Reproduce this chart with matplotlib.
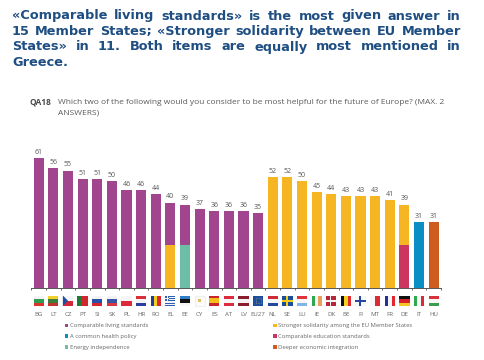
import matplotlib
matplotlib.use("Agg")
import matplotlib.pyplot as plt
from matplotlib.patches import Rectangle, Polygon

W, H = 485, 360

countries = ["BG","LT","CZ","PT","SI","SK","PL","HR","RO","EL","EE","CY","ES","AT","LV","EU27",
             "NL","SE","LU","IE","DK","BE","FI","MT","FR","DE","IT","HU"]
totals = [61,56,55,51,51,50,46,46,44,40,39,37,36,36,36,35,52,52,50,45,44,43,43,43,41,39,31,31]
living = [61,56,55,51,51,50,46,46,44,20,19,37,36,36,36,35,0,0,0,0,0,0,0,0,0,0,0,0]
solidarity = [0,0,0,0,0,0,0,0,0,20,0,0,0,0,0,0,52,52,50,45,44,43,43,43,41,19,0,0]
health = [0]*26 + [31,0]
education = [0]*25 + [20,0,0]
energy = [0]*10 + [20] + [0]*17
economic = [0]*27 + [31]

series_names = ["Comparable living standards","A common health policy","Energy independence",
                "Stronger solidarity among the EU Member States","Comparable education standards",
                "Deeper economic integration"]
series_values = [living, health, energy, solidarity, education, economic]
series_colors = ["#A1468E","#0B8DC6","#6CBFA6","#F6B522","#CB3560","#CD5C1E"]
# stacking order inside a bar, bottom first
stack_order = [4, 2, 1, 5, 3, 0]

title_lines = ["«Comparable living standards» is the most given answer in",
               "15 Member States; «Stronger solidarity between EU Member",
               "States» in 11. Both items are equally most mentioned in",
               "Greece."]
question_lines = ["Which two of the following would you consider to be most helpful for the future of Europe? (MAX. 2",
                  "ANSWERS)"]

flags = {
 "BG":("h",["#F4F4F4","#2E9B4E","#D8342A"]), "LT":("h",["#F2D02C","#3C7D3A","#C1352D"]),
 "CZ":("h",["#F6F6F6","#D3263A"]), "PT":("v",["#1F7A3A","#D3262E","#D3262E"]),
 "SI":("h",["#F4F4F4","#2A4FA8","#D8262E"]), "SK":("h",["#F2F2F2","#3A55A8","#D8393E"]),
 "PL":("h",["#F6F6F6","#DC2A3C"]), "HR":("h",["#D8303A","#F4F4F4","#2D3F9E"]),
 "RO":("v",["#1F3F9C","#F5CF1E","#D82A30"]), "EL":("h",["#2F5FB0","#F4F4F4"]*4+["#2F5FB0"]),
 "EE":("h",["#2F7FC8","#111111","#F6F6F6"]), "CY":("h",["#FBFBFB"]),
 "ES":("h",["#C9252B","#F3BE1B","#F3BE1B","#C9252B"]), "AT":("h",["#DB2B3C","#F6F6F6","#DB2B3C"]),
 "LV":("h",["#8A1D2C","#F2F2F2","#8A1D2C"]), "EU27":("h",["#1E4E9E"]),
 "NL":("h",["#CE2B37","#F6F6F6","#2447A0"]), "SE":("h",["#1A4F9C"]),
 "LU":("h",["#E2323E","#F6F6F6","#80B4E8"]), "IE":("v",["#2FA84F","#F6F6F6","#E8A05A"]),
 "DK":("h",["#B8263A"]), "BE":("v",["#111111","#F5D21F","#E02B30"]),
 "FI":("h",["#F8F8F8"]), "MT":("v",["#F8F8F8","#DD2B36"]),
 "FR":("v",["#20319C","#F6F6F6","#E0282E"]), "DE":("h",["#111111","#D8202A","#F6C81E"]),
 "IT":("v",["#2FA84F","#F6F6F6","#D82B36"]), "HU":("h",["#D8323A","#F6F6F6","#3C9E4C"]),
}
crosses = {"SE":"#F5CE1E","DK":"#F4F4F4","FI":"#24489E","EL":"#F4F4F4"}

fig = plt.figure(figsize=(W/100, H/100), dpi=100, facecolor="white")
plt.rcParams["font.family"] = ["Open Sans", "DejaVu Sans"]

def fx(x): return x / W
def fy(y): return 1 - y / H

renderer = fig.canvas.get_renderer()

def fit_size(text, target_px, **kw):
    t = fig.text(0, 0, text, fontsize=10, **kw)
    w = t.get_window_extent(renderer).width
    t.remove()
    return 10 * target_px / w

def justified(line, x0, x1, y, justify=True, **kw):
    words = line.split(" ")
    arts = [fig.text(fx(x0), fy(y), w, va="center", ha="left", **kw) for w in words]
    widths = [a.get_window_extent(renderer).width for a in arts]
    if justify and len(words) > 1:
        gap = (x1 - x0 - sum(widths)) / (len(words) - 1)
    else:
        space = fig.text(0, 0, "n", **kw)
        gap = space.get_window_extent(renderer).width * 0.6
        space.remove()
    x = x0
    for a, w in zip(arts, widths):
        a.set_x(fx(x))
        x += w + gap

# title, justified word by word
TITLE_L, TITLE_R = 12, 461
title_y = [16, 31.5, 47, 62]
title_fs = fit_size("«Comparable", 96, family="DejaVu Sans", fontweight="bold")
for i, (line, y) in enumerate(zip(title_lines, title_y)):
    justified(line, TITLE_L, TITLE_R, y, justify=i < 3, family="DejaVu Sans",
              fontweight="bold", fontsize=title_fs, color="#1F4E82")

q_fs = fit_size(question_lines[0], 387)
fig.text(fx(30), fy(102.5), "QA18", fontsize=q_fs, fontweight="bold", color="#4A4A4A", va="center")
fig.text(fx(58), fy(102.5), question_lines[0], fontsize=q_fs, color="#5A5A5A", va="center")
fig.text(fx(58), fy(113.5), question_lines[1], fontsize=q_fs, color="#5A5A5A", va="center")

# axes
L, R, T, B = 31.4, 441, 140, 288
ax = fig.add_axes([fx(L), fy(B), (R - L) / W, (B - T) / H])
pos = list(range(len(countries)))
bottoms = [0] * len(countries)
handles = {}
for idx in stack_order:
    vals = series_values[idx]
    handles[idx] = ax.bar(pos, vals, width=0.69, bottom=bottoms, color=series_colors[idx],
                          label=series_names[idx], linewidth=0)
    bottoms = [b + v for b, v in zip(bottoms, vals)]

leg_fs = fit_size(series_names[0], 78)

for p, t in zip(pos, totals):
    ax.annotate(str(t), (p, t), xytext=(0, 1.6), textcoords="offset points", ha="center",
                va="bottom", fontsize=5.0, color="#555555")

ax.set_xlim(-0.5, len(countries) - 0.5)
ax.set_ylim(0, 69.3)
ax.yaxis.set_visible(False)
for s in ["top", "left", "right"]:
    ax.spines[s].set_visible(False)
ax.spines["bottom"].set_color("#555555")
ax.spines["bottom"].set_linewidth(0.7)
ax.set_xticks([p - 0.5 for p in pos] + [len(pos) - 0.5])
ax.set_xticklabels([])
ax.tick_params(axis="x", which="major", length=1.4, width=0.6, color="#555555")
ax.set_xticks(pos, minor=True)
ax.set_xticklabels(countries, minor=True, fontsize=leg_fs + 0.2, color="#666666")
ax.tick_params(axis="x", which="minor", length=0, pad=17)

# flags
trans = ax.get_xaxis_transform()
fh = 10.5 / (B - T)
ftop = -7.5 / (B - T)
fw = 0.70
def rect(x, y, w, h, **kw):
    ax.add_patch(Rectangle((x, y), w, h, transform=trans, clip_on=False, **kw))
for p, c in zip(pos, countries):
    kind, cols = flags[c]
    n = len(cols)
    for i, col in enumerate(cols):
        if kind == "h":
            rect(p - fw/2, ftop - fh*(i+1)/n, fw, fh/n, facecolor=col, lw=0)
        else:
            rect(p - fw/2 + fw*i/n, ftop - fh, fw/n, fh, facecolor=col, lw=0)
    if c == "EL":
        cw, ch = 0.4, 0.56
        rect(p - fw/2, ftop - fh*ch, fw*cw, fh*ch, facecolor="#2F5FB0", lw=0)
        rect(p - fw/2, ftop - fh*ch/2 - fh*0.06, fw*cw, fh*0.12, facecolor=crosses[c], lw=0)
        rect(p - fw/2 + fw*cw/2 - fw*0.05, ftop - fh*ch, fw*0.1, fh*ch, facecolor=crosses[c], lw=0)
    elif c in crosses:
        rect(p - fw/2, ftop - fh*0.59, fw, fh*0.18, facecolor=crosses[c], lw=0)
        rect(p - fw*0.17, ftop - fh, fw*0.18, fh, facecolor=crosses[c], lw=0)
    if c == "CZ":
        ax.add_patch(Polygon([(p - fw/2, ftop), (p - fw/2, ftop - fh), (p, ftop - fh/2)],
                             facecolor="#1F4E9C", lw=0, transform=trans, clip_on=False))
    if c == "CY":
        rect(p - fw/2, ftop - fh, fw, fh, facecolor="none", edgecolor="#E4E4E4", lw=0.4)
        rect(p - 0.1, ftop - fh*0.6, 0.2, fh*0.25, facecolor="#E0C060", lw=0)
    if c == "EU27":
        rect(p - 0.17, ftop - fh*0.72, 0.34, fh*0.44, facecolor="none", edgecolor="#D8C050", lw=0.4, ls=":")

# legend
fpx = leg_fs * 100 / 72
leg_handles = [handles[i] for i in range(6)]
fig.legend(leg_handles, series_names, ncol=2, loc="upper left",
           bbox_to_anchor=(fx(65), fy(323.5)), frameon=False, fontsize=leg_fs,
           labelcolor="#666666", handlelength=3.5/fpx, handleheight=0.6, handletextpad=1.5/fpx,
           columnspacing=(208 - 83)/fpx, labelspacing=(12 - fpx*1.05)/fpx, borderpad=0, borderaxespad=0)

fig.savefig("out.png", dpi=100)
